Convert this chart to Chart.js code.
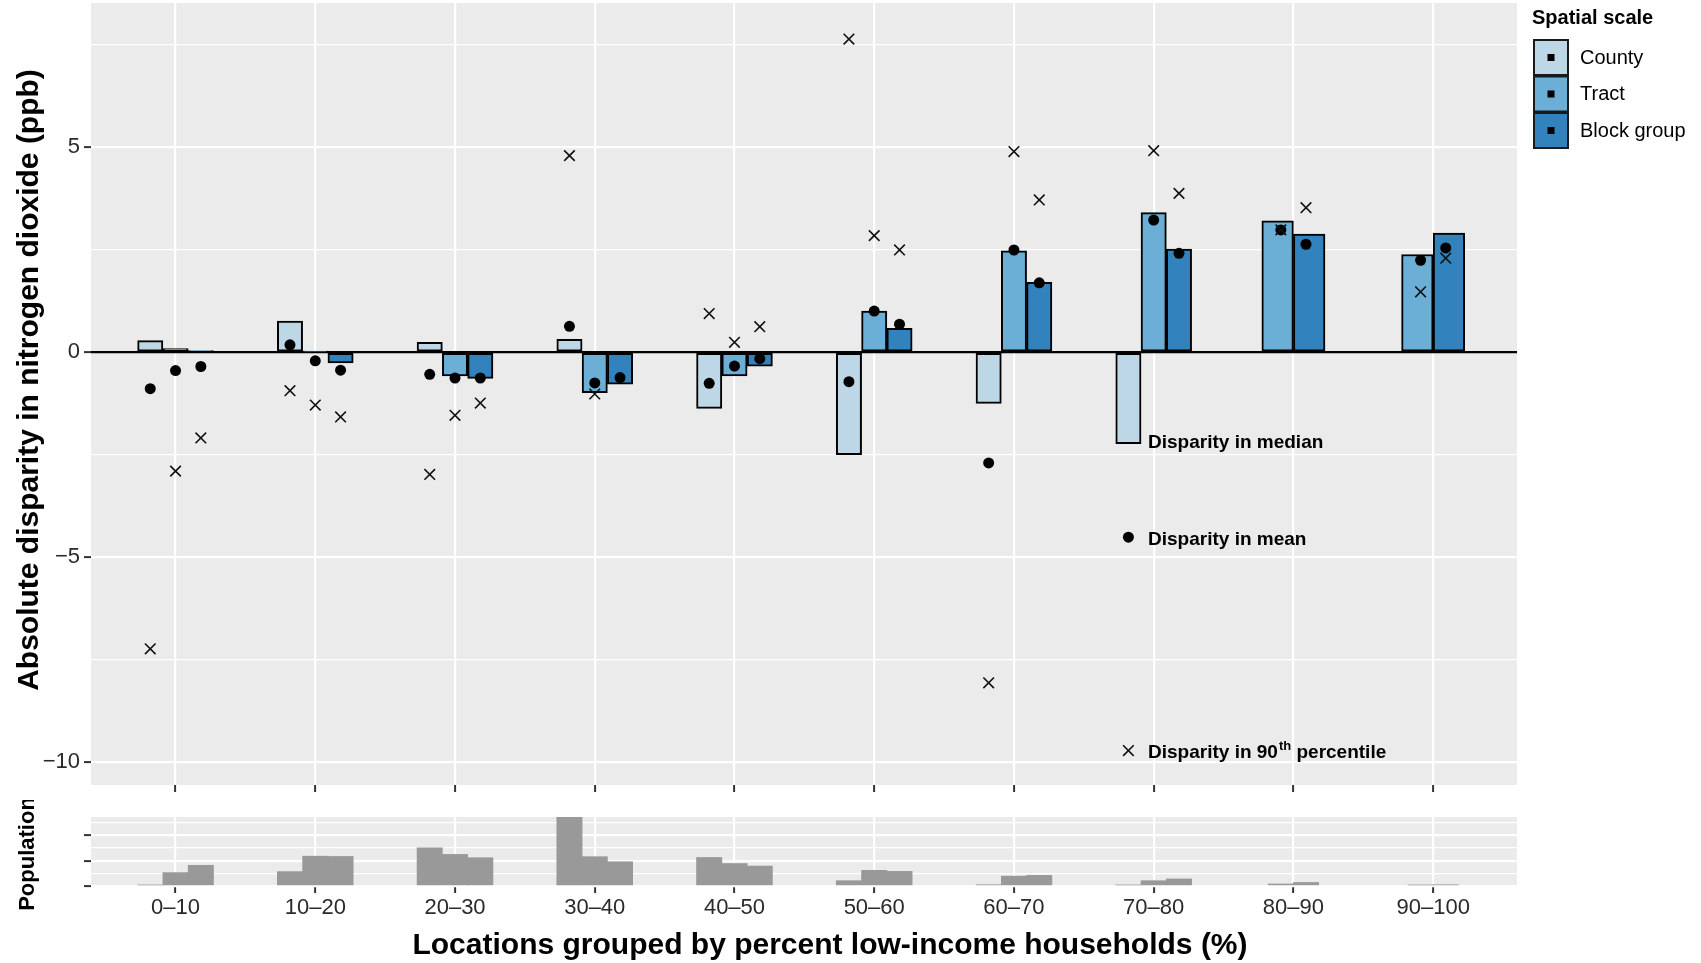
<!DOCTYPE html>
<html>
<head>
<meta charset="utf-8">
<script src="https://cdn.jsdelivr.net/npm/chart.js"></script>
<style>
  html, body { margin: 0; padding: 0; background: #fff; }
  #wrap { position: relative; width: 1701px; height: 963px; }
  #main { position: absolute; left: 0; top: 0; }
  #pop { position: absolute; left: 0; top: 800px; }
</style>
</head>
<body>
<div id="wrap">
  <canvas id="main" width="1701" height="800"></canvas>
  <canvas id="pop" width="1701" height="163"></canvas>
</div>
<script>
// categories (percent low-income households)
const categories = ['0–10', '10–20', '20–30', '30–40', '40–50', '50–60', '60–70', '70–80', '80–90', '90–100'];
const seriesNames = ['County', 'Tract', 'Block group'];

// disparity in median (bars), ppb
const medianCounty = [0.28, 0.76, 0.24, 0.31, -1.37, -2.50, -1.25, -2.23, null, null];
const medianTract  = [0.09, 0.02, -0.58, -0.99, -0.58, 1.00, 2.47, 3.40, 3.20, 2.38];
const medianBlock  = [0.04, -0.26, -0.64, -0.78, -0.34, 0.58, 1.70, 2.51, 2.88, 2.90];

// disparity in mean (dots)
const meanCounty = [-0.89, 0.18, -0.54, 0.63, -0.76, -0.72, -2.70, -4.51, null, null];
const meanTract  = [-0.45, -0.21, -0.63, -0.75, -0.34, 1.00, 2.49, 3.22, 2.98, 2.24];
const meanBlock  = [-0.35, -0.44, -0.63, -0.62, -0.16, 0.68, 1.69, 2.41, 2.63, 2.54];

// disparity in 90th percentile (crosses)
const p90County = [-7.23, -0.94, -2.98, 4.79, 0.94, 7.63, -8.06, -9.71, null, null];
const p90Tract  = [-2.90, -1.29, -1.54, -1.02, 0.24, 2.84, 4.89, 4.91, 2.98, 1.47];
const p90Block  = [-2.09, -1.58, -1.24, null, 0.62, 2.49, 3.71, 3.87, 3.52, 2.29];

// population per group (relative units)
const popCounty = [0.04, 0.57, 1.51, 2.74, 1.13, 0.21, 0.05, 0.04, null, null];
const popTract  = [0.53, 1.18, 1.25, 1.16, 0.89, 0.62, 0.39, 0.21, 0.08, 0.04];
const popBlock  = [0.82, 1.17, 1.12, 0.96, 0.79, 0.58, 0.42, 0.28, 0.14, 0.05];

// axis ticks
const yMajor = [-10, -5, 0, 5];
const yMinor = [-7.5, -2.5, 2.5, 7.5];
const popMajor = [0, 1, 2];
const popMinor = [0.5, 1.5, 2.5];

// ---- look & layout ----
const FONT = "'Liberation Sans', Arial, Helvetica, sans-serif";
const COLORS = ['#bdd7e7', '#6baed6', '#3182bd'];
const PANEL = '#ebebeb';
const TICK_TXT = '#2a2a2a';
const PLOT_LEFT = 91, PLOT_RIGHT = 1517;
const X_MIN = -0.605, X_MAX = 9.6;
const unit = (PLOT_RIGHT - PLOT_LEFT) / (X_MAX - X_MIN);
const labelIndex = 7; // group whose county marks carry the key labels

const full = i => medianCounty[i] !== null;
const pair = i => medianCounty[i] === null;

function barPoints(values, off, keep) {
  return values.map((v, i) => ({ x: i + off, y: v, i }))
    .filter(p => p.y !== null && keep(p.i));
}
function markPoints(c, t, b, pairOff) {
  const out = [];
  categories.forEach((_, i) => {
    const offs = full(i) ? [-0.181, 0, 0.181] : [null, -pairOff, pairOff];
    [c, t, b].forEach((arr, k) => {
      if (offs[k] !== null && arr[i] !== null) out.push({ x: i + offs[k], y: arr[i] });
    });
  });
  return out;
}

const noPad = s => { s.paddingTop = 0; s.paddingBottom = 0; s.paddingLeft = 0; s.paddingRight = 0; };

const panelBg = {
  id: 'panelBg',
  beforeDraw(chart) {
    const a = chart.chartArea, ctx = chart.ctx;
    ctx.save();
    ctx.fillStyle = PANEL;
    ctx.fillRect(a.left, a.top, a.right - a.left, a.bottom - a.top);
    ctx.restore();
  }
};

function sideTitle(text, size, x, y) {
  return {
    id: 'sideTitle',
    afterDraw(chart) {
      const ctx = chart.ctx;
      ctx.save();
      ctx.translate(x, y);
      ctx.rotate(-Math.PI / 2);
      ctx.fillStyle = '#000';
      ctx.textAlign = 'center';
      ctx.textBaseline = 'middle';
      ctx.font = `bold ${size}px ${FONT}`;
      ctx.fillText(text, 0, 0);
      ctx.restore();
    }
  };
}

const bar = (label, data, color, w, border) => ({
  type: 'bar', label, data, backgroundColor: color,
  borderColor: border ? '#000' : color, borderWidth: border ? 2 : 0,
  borderSkipped: false, grouped: false, barThickness: w * unit, order: 3
});

const xAxis = (showLabels, height) => ({
  type: 'linear', min: X_MIN, max: X_MAX, offset: false,
  afterBuildTicks: s => { s.ticks = categories.map((_, i) => ({ value: i })); },
  afterFit: s => { s.height = height; noPad(s); },
  grid: { color: '#fff', lineWidth: 2.2, offset: false, tickColor: '#333', tickLength: 7, tickWidth: 2 },
  border: { display: false },
  ticks: {
    display: showLabels, autoSkip: false, maxRotation: 0, color: TICK_TXT, padding: 2,
    font: { family: FONT, size: 22 },
    callback: v => categories[v]
  }
});

const fmt = v => v < 0 ? '\u2212' + Math.abs(v) : String(v);

// ---- main chart ----
const keyLegend = {
  id: 'keyLegend',
  afterDraw(chart) {
    const ctx = chart.ctx;
    ctx.save();
    ctx.textAlign = 'left';
    ctx.textBaseline = 'middle';
    ctx.fillStyle = '#000';
    ctx.font = `bold 20px ${FONT}`;
    ctx.fillText('Spatial scale', 1532, 18);
    seriesNames.forEach((name, k) => {
      const y = 40 + k * 36.5;
      ctx.fillStyle = COLORS[k];
      ctx.fillRect(1534, y, 34, 35);
      ctx.strokeStyle = '#1a1a1a';
      ctx.lineWidth = 2;
      ctx.strokeRect(1534, y, 34, 35);
      ctx.fillStyle = '#000';
      ctx.fillRect(1547.5, y + 14, 7, 7);
      ctx.font = `20px ${FONT}`;
      ctx.fillText(name, 1580, y + 18);
    });
    ctx.restore();
  }
};

const markLabels = {
  id: 'markLabels',
  afterDatasetsDraw(chart) {
    const { ctx, scales } = chart;
    const x = scales.x.getPixelForValue(labelIndex - 0.181) + 0.0905 * unit + 7;
    ctx.save();
    ctx.fillStyle = '#000';
    ctx.textAlign = 'left';
    ctx.textBaseline = 'middle';
    ctx.font = `bold 19px ${FONT}`;
    ctx.fillText('Disparity in median', x, scales.y.getPixelForValue(medianCounty[labelIndex]) - 1);
    ctx.fillText('Disparity in mean', x, scales.y.getPixelForValue(meanCounty[labelIndex]) + 3);
    const y3 = scales.y.getPixelForValue(p90County[labelIndex]) + 2;
    const a = 'Disparity in 90';
    ctx.fillText(a, x, y3);
    let w = ctx.measureText(a).width;
    ctx.font = `bold 13px ${FONT}`;
    ctx.fillText('th', x + w + 1, y3 - 6);
    w += ctx.measureText('th').width + 1;
    ctx.font = `bold 19px ${FONT}`;
    ctx.fillText(' percentile', x + w, y3);
    ctx.restore();
  }
};

new Chart(document.getElementById('main'), {
  type: 'bar',
  data: {
    datasets: [
      {
        type: 'scatter', label: 'Disparity in 90th percentile',
        data: markPoints(p90County, p90Tract, p90Block, 0.09),
        pointStyle: 'crossRot', pointRadius: 7.5, borderColor: '#111', borderWidth: 1.6,
        backgroundColor: '#111', order: 1
      },
      {
        type: 'scatter', label: 'Disparity in mean',
        data: markPoints(meanCounty, meanTract, meanBlock, 0.09),
        pointStyle: 'circle', pointRadius: 5.5, backgroundColor: '#000', borderWidth: 0, order: 2
      },
      bar('County', barPoints(medianCounty, -0.181, full), COLORS[0], 0.181, true),
      bar('Tract', barPoints(medianTract, 0, full), COLORS[1], 0.181, true),
      bar('Block group', barPoints(medianBlock, 0.181, full), COLORS[2], 0.181, true),
      bar('Tract', barPoints(medianTract, -0.113, pair), COLORS[1], 0.226, true),
      bar('Block group', barPoints(medianBlock, 0.113, pair), COLORS[2], 0.226, true)
    ]
  },
  options: {
    responsive: false, animation: false, devicePixelRatio: 1, events: [],
    layout: { autoPadding: false, padding: { top: 3, right: 1701 - PLOT_RIGHT, left: 0, bottom: 0 } },
    plugins: { legend: { display: false }, tooltip: { enabled: false } },
    scales: {
      x: xAxis(false, 15),
      y: {
        type: 'linear', min: -10.55, max: 8.51,
        afterBuildTicks: s => { s.ticks = yMajor.concat(yMinor).sort((a, b) => a - b).map(v => ({ value: v })); },
        afterFit: s => { s.width = PLOT_LEFT; noPad(s); },
        grid: {
          color: c => c.tick && c.tick.value === 0 ? '#000' : '#fff',
          lineWidth: c => (c.tick && yMajor.includes(c.tick.value)) ? 2.2 : 1.3,
          tickColor: c => (c.tick && yMajor.includes(c.tick.value)) ? '#333' : 'rgba(0,0,0,0)',
          tickLength: 7, tickWidth: 2
        },
        border: { display: false },
        ticks: {
          autoSkip: false, color: TICK_TXT, padding: 4,
          font: { family: FONT, size: 22 },
          callback: v => yMajor.includes(v) ? fmt(v) : ''
        }
      }
    }
  },
  plugins: [panelBg, keyLegend, markLabels,
    sideTitle('Absolute disparity in nitrogen dioxide (ppb)', 30, 30, 380)]
});

// ---- population panel ----
const xTitle = {
  id: 'xTitle',
  afterDraw(chart) {
    const ctx = chart.ctx;
    ctx.save();
    ctx.fillStyle = '#000';
    ctx.textAlign = 'center';
    ctx.textBaseline = 'middle';
    ctx.font = `bold 30px ${FONT}`;
    ctx.fillText('Locations grouped by percent low-income households (%)', 830, 146);
    ctx.restore();
  }
};

new Chart(document.getElementById('pop'), {
  type: 'bar',
  data: {
    datasets: [
      bar('County', barPoints(popCounty, -0.181, full), '#999999', 0.181, false),
      bar('Tract', barPoints(popTract, 0, full), '#999999', 0.181, false),
      bar('Block group', barPoints(popBlock, 0.181, full), '#999999', 0.181, false),
      bar('Tract', barPoints(popTract, -0.09, pair), '#999999', 0.181, false),
      bar('Block group', barPoints(popBlock, 0.09, pair), '#999999', 0.181, false)
    ]
  },
  options: {
    responsive: false, animation: false, devicePixelRatio: 1, events: [],
    layout: { autoPadding: false, padding: { top: 17, right: 1701 - PLOT_RIGHT, left: 0, bottom: 0 } },
    plugins: { legend: { display: false }, tooltip: { enabled: false } },
    scales: {
      x: xAxis(true, 77),
      y: {
        type: 'linear', min: 0, max: 2.73,
        afterBuildTicks: s => { s.ticks = popMajor.concat(popMinor).sort((a, b) => a - b).map(v => ({ value: v })); },
        afterFit: s => { s.width = PLOT_LEFT; noPad(s); },
        grid: {
          color: '#fff',
          lineWidth: c => (c.tick && popMajor.includes(c.tick.value)) ? 2.2 : 1.3,
          tickColor: c => (c.tick && popMajor.includes(c.tick.value)) ? '#333' : 'rgba(0,0,0,0)',
          tickLength: 7, tickWidth: 2
        },
        border: { display: false },
        ticks: { autoSkip: false, callback: () => '' }
      }
    }
  },
  plugins: [panelBg, xTitle, sideTitle('Population', 22, 28, 54)]
});
</script>
</body>
</html>
